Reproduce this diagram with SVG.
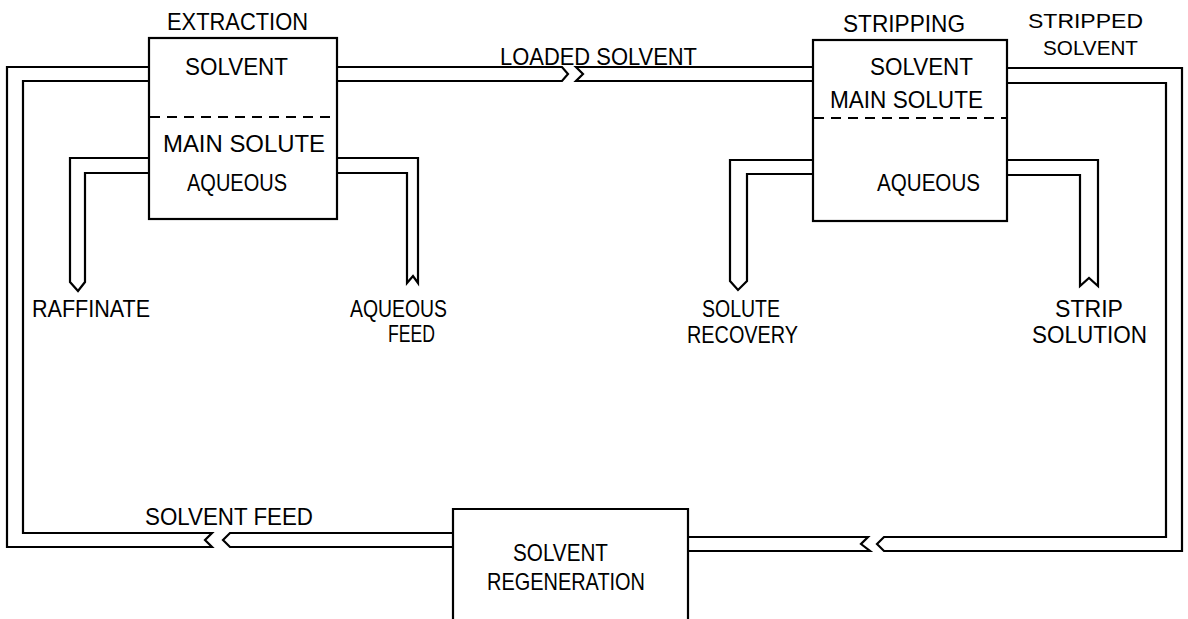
<svg xmlns="http://www.w3.org/2000/svg" width="1188" height="619" viewBox="0 0 1188 619">
<style>
.box{fill:none;stroke:#000;stroke-width:2.2}
.dash{fill:none;stroke:#000;stroke-width:2;stroke-dasharray:10 7}
.pipe{fill:none;stroke:#000;stroke-width:2.2;stroke-linejoin:miter}
text{font-family:"Liberation Sans",Arial,sans-serif;font-size:24.5px;fill:#000}
.sm{font-size:21px}
</style>
<rect width="1188" height="619" fill="#fff"/>
<g id="connectors">
<!-- solvent feed loop into extraction -->
<path class="pipe" d="M149,67 H7 V547 H212 L205,540 L212,533 H23 V81 H149"/>
<path class="pipe" d="M453,533 H230 L223,540 L230,547 H453"/>
<!-- loaded solvent -->
<path class="pipe" d="M337,67 H562 L568,74 L562,81 H337"/>
<path class="pipe" d="M813,67 H576 L583,74 L576,81 H813"/>
<!-- raffinate -->
<path class="pipe" d="M149,158 H70 V282 L78,291 L85,282 V173 H149"/>
<!-- aqueous feed -->
<path class="pipe" d="M337,158 H418 V283 L413,276 L407,283 V173 H337"/>
<!-- solute recovery -->
<path class="pipe" d="M813,160 H730 V281 L738,290 L747,281 V174 H813"/>
<!-- strip solution -->
<path class="pipe" d="M1007,160 H1098 V286 L1089,278 L1080,286 V175 H1007"/>
<!-- stripped solvent -->
<path class="pipe" d="M1007,68 H1182 V551 H884 L877,544 L884,537 H1166 V83 H1007"/>
<path class="pipe" d="M688,537 H868 L861,544 L870,551 H688"/>
</g>
<g id="extraction">
<rect class="box" x="149" y="38" width="188" height="181"/>
<line class="dash" x1="150" y1="117" x2="336" y2="117"/>
<text x="167" y="30" textLength="141" lengthAdjust="spacingAndGlyphs">EXTRACTION</text>
<text x="185" y="75" textLength="103" lengthAdjust="spacingAndGlyphs">SOLVENT</text>
<text x="163" y="152" textLength="162" lengthAdjust="spacingAndGlyphs">MAIN SOLUTE</text>
<text x="187" y="191" textLength="100" lengthAdjust="spacingAndGlyphs">AQUEOUS</text>
</g>
<g id="stripping">
<rect class="box" x="813" y="40" width="194" height="181"/>
<line class="dash" x1="814" y1="118" x2="1006" y2="118"/>
<text x="843" y="32" textLength="122" lengthAdjust="spacingAndGlyphs">STRIPPING</text>
<text x="870" y="75" textLength="103" lengthAdjust="spacingAndGlyphs">SOLVENT</text>
<text x="830" y="108" textLength="153" lengthAdjust="spacingAndGlyphs">MAIN SOLUTE</text>
<text x="877" y="191" textLength="103" lengthAdjust="spacingAndGlyphs">AQUEOUS</text>
</g>
<g id="regeneration">
<path class="box" d="M453,625 V509 H688 V625"/>
<text x="513" y="561" textLength="95" lengthAdjust="spacingAndGlyphs">SOLVENT</text>
<text x="487" y="590" textLength="158" lengthAdjust="spacingAndGlyphs">REGENERATION</text>
</g>
<g id="label-loaded-solvent">
<text x="500" y="65" textLength="197" lengthAdjust="spacingAndGlyphs">LOADED SOLVENT</text>
</g>
<g id="label-stripped-solvent">
<text class="sm" x="1028" y="28" textLength="115" lengthAdjust="spacingAndGlyphs">STRIPPED</text>
<text class="sm" x="1043" y="55" textLength="95" lengthAdjust="spacingAndGlyphs">SOLVENT</text>
</g>
<g id="label-raffinate">
<text x="32" y="317" textLength="118" lengthAdjust="spacingAndGlyphs">RAFFINATE</text>
</g>
<g id="label-aqueous-feed">
<text x="350" y="317" textLength="97" lengthAdjust="spacingAndGlyphs">AQUEOUS</text>
<text x="388" y="342" textLength="47" lengthAdjust="spacingAndGlyphs">FEED</text>
</g>
<g id="label-solute-recovery">
<text x="702" y="317" textLength="78" lengthAdjust="spacingAndGlyphs">SOLUTE</text>
<text x="687" y="343" textLength="111" lengthAdjust="spacingAndGlyphs">RECOVERY</text>
</g>
<g id="label-strip-solution">
<text x="1055" y="317" textLength="68" lengthAdjust="spacingAndGlyphs">STRIP</text>
<text x="1032" y="343" textLength="115" lengthAdjust="spacingAndGlyphs">SOLUTION</text>
</g>
<g id="label-solvent-feed">
<text x="145" y="525" textLength="168" lengthAdjust="spacingAndGlyphs">SOLVENT FEED</text>
</g>
</svg>
